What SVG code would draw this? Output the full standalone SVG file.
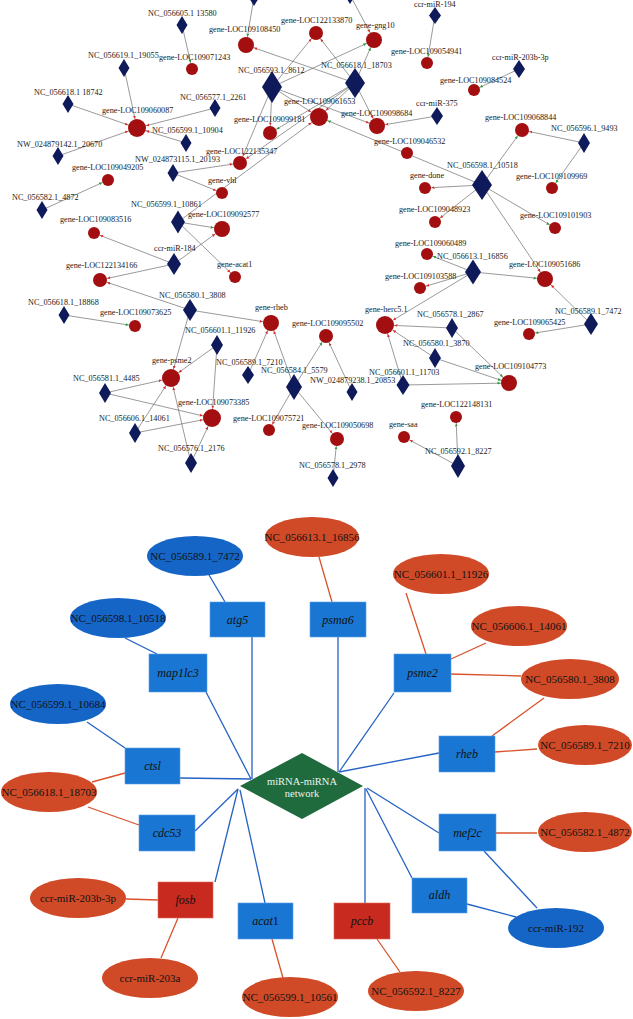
<svg xmlns="http://www.w3.org/2000/svg" width="633" height="1019" viewBox="0 0 633 1019">
<style>
.t{font-family:"Liberation Serif",serif;font-size:8.2px;fill:#1a1a1a}
.e{stroke:#6e6e6e;stroke-width:0.7;fill:none}
.g{fill:#a30f10}
.d{fill:#0e1a5a}
.bl{stroke:#2462c4;stroke-width:1.3}
.rl{stroke:#d9522b;stroke-width:1.3}
.bx{fill:#1976d2;stroke:#5aa0e6;stroke-width:0.6}
.rbx{fill:#c82a1f;stroke:#e06a5a;stroke-width:0.6}
.eb{fill:#1565c6}
.er{fill:#d04a27}
.lt{font-family:"Liberation Serif",serif;font-size:11px;fill:#111;text-anchor:middle}
.bt{font-family:"Liberation Serif",serif;font-size:12px;font-style:italic;fill:#111;text-anchor:middle}
.ht{font-family:"Liberation Serif",serif;font-size:10.5px;fill:#eef3ee;text-anchor:middle}
</style>
<defs>
<marker id="r6" viewBox="0 -2 4 4" refX="9.5" refY="0" markerWidth="4" markerHeight="4" orient="auto" markerUnits="userSpaceOnUse"><path d="M0,-1.5L3,0L0,1.5z" fill="#e02a2a"/></marker>
<marker id="r7" viewBox="0 -2 4 4" refX="10.5" refY="0" markerWidth="4" markerHeight="4" orient="auto" markerUnits="userSpaceOnUse"><path d="M0,-1.5L3,0L0,1.5z" fill="#e02a2a"/></marker>
<marker id="r8" viewBox="0 -2 4 4" refX="11.5" refY="0" markerWidth="4" markerHeight="4" orient="auto" markerUnits="userSpaceOnUse"><path d="M0,-1.5L3,0L0,1.5z" fill="#e02a2a"/></marker>
<marker id="r9" viewBox="0 -2 4 4" refX="12.5" refY="0" markerWidth="4" markerHeight="4" orient="auto" markerUnits="userSpaceOnUse"><path d="M0,-1.5L3,0L0,1.5z" fill="#e02a2a"/></marker>
<marker id="g6" viewBox="0 -2 4 4" refX="9.5" refY="0" markerWidth="4" markerHeight="4" orient="auto" markerUnits="userSpaceOnUse"><path d="M0,-1.5L3,0L0,1.5z" fill="#2a9a35"/></marker>
<marker id="g7" viewBox="0 -2 4 4" refX="10.5" refY="0" markerWidth="4" markerHeight="4" orient="auto" markerUnits="userSpaceOnUse"><path d="M0,-1.5L3,0L0,1.5z" fill="#2a9a35"/></marker>
<marker id="g8" viewBox="0 -2 4 4" refX="11.5" refY="0" markerWidth="4" markerHeight="4" orient="auto" markerUnits="userSpaceOnUse"><path d="M0,-1.5L3,0L0,1.5z" fill="#2a9a35"/></marker>
<marker id="g9" viewBox="0 -2 4 4" refX="12.5" refY="0" markerWidth="4" markerHeight="4" orient="auto" markerUnits="userSpaceOnUse"><path d="M0,-1.5L3,0L0,1.5z" fill="#2a9a35"/></marker>
</defs>
<rect width="633" height="1019" fill="#ffffff"/>

<g id="connectors">
<g class="e">
<line x1="182" y1="25" x2="192" y2="69" marker-end="url(#g6)"/>
<line x1="254" y1="-3" x2="246" y2="45" marker-end="url(#g8)"/>
<line x1="350" y1="-5" x2="374" y2="40" marker-end="url(#r8)"/>
<line x1="435" y1="15" x2="427" y2="63" marker-end="url(#g6)"/>
<line x1="124" y1="68" x2="137" y2="128" marker-end="url(#r9)"/>
<line x1="68" y1="104" x2="137" y2="128" marker-end="url(#r9)"/>
<line x1="58" y1="156" x2="137" y2="128" marker-end="url(#r9)"/>
<line x1="186" y1="143" x2="137" y2="128" marker-end="url(#r9)"/>
<line x1="215" y1="108" x2="137" y2="128" marker-end="url(#r9)"/>
<line x1="42" y1="210" x2="108" y2="180" marker-end="url(#g6)"/>
<line x1="272" y1="87" x2="316" y2="33" marker-end="url(#r7)"/>
<line x1="272" y1="87" x2="374" y2="40" marker-end="url(#g8)"/>
<line x1="355" y1="83" x2="246" y2="45" marker-end="url(#r8)"/>
<line x1="355" y1="83" x2="316" y2="33" marker-end="url(#r7)"/>
<line x1="355" y1="83" x2="374" y2="40" marker-end="url(#g8)"/>
<line x1="272" y1="87" x2="270" y2="133" marker-end="url(#r7)"/>
<line x1="272" y1="87" x2="240" y2="163" marker-end="url(#r7)"/>
<line x1="272" y1="87" x2="377" y2="126" marker-end="url(#r8)"/>
<line x1="272" y1="87" x2="319" y2="117" marker-end="url(#r9)"/>
<line x1="355" y1="83" x2="319" y2="117" marker-end="url(#r9)"/>
<line x1="355" y1="83" x2="240" y2="163" marker-end="url(#r7)"/>
<line x1="355" y1="83" x2="270" y2="133" marker-end="url(#g7)"/>
<line x1="355" y1="83" x2="377" y2="126" marker-end="url(#r8)"/>
<line x1="178" y1="222" x2="319" y2="117" marker-end="url(#r9)"/>
<line x1="482" y1="185" x2="319" y2="117" marker-end="url(#g9)"/>
<line x1="437" y1="116" x2="377" y2="126" marker-end="url(#r8)"/>
<line x1="519" y1="69" x2="474" y2="90" marker-end="url(#g6)"/>
<line x1="584" y1="143" x2="522" y2="130" marker-end="url(#r7)"/>
<line x1="584" y1="143" x2="552" y2="188" marker-end="url(#g6)"/>
<line x1="482" y1="185" x2="522" y2="130" marker-end="url(#g7)"/>
<line x1="482" y1="185" x2="425" y2="188" marker-end="url(#r6)"/>
<line x1="482" y1="185" x2="435" y2="222" marker-end="url(#r6)"/>
<line x1="482" y1="185" x2="555" y2="228" marker-end="url(#g6)"/>
<line x1="482" y1="185" x2="545" y2="279" marker-end="url(#r8)"/>
<line x1="473" y1="272" x2="545" y2="279" marker-end="url(#g8)"/>
<line x1="473" y1="272" x2="427" y2="254" marker-end="url(#g6)"/>
<line x1="473" y1="272" x2="420" y2="288" marker-end="url(#r6)"/>
<line x1="473" y1="272" x2="385" y2="325" marker-end="url(#r9)"/>
<line x1="591" y1="324" x2="545" y2="279" marker-end="url(#r8)"/>
<line x1="591" y1="324" x2="529" y2="334" marker-end="url(#g6)"/>
<line x1="173" y1="173" x2="222" y2="193" marker-end="url(#r6)"/>
<line x1="173" y1="173" x2="240" y2="163" marker-end="url(#r7)"/>
<line x1="178" y1="222" x2="222" y2="229" marker-end="url(#g8)"/>
<line x1="178" y1="222" x2="235" y2="277" marker-end="url(#r6)"/>
<line x1="174" y1="264" x2="222" y2="229" marker-end="url(#r8)"/>
<line x1="174" y1="264" x2="94" y2="233" marker-end="url(#r6)"/>
<line x1="174" y1="264" x2="100" y2="280" marker-end="url(#r7)"/>
<line x1="190" y1="310" x2="100" y2="280" marker-end="url(#r7)"/>
<line x1="190" y1="310" x2="271" y2="323" marker-end="url(#r8)"/>
<line x1="190" y1="310" x2="171" y2="378" marker-end="url(#r9)"/>
<line x1="64" y1="315" x2="135" y2="326" marker-end="url(#g6)"/>
<line x1="217" y1="345" x2="171" y2="378" marker-end="url(#r9)"/>
<line x1="217" y1="345" x2="212" y2="418" marker-end="url(#r9)"/>
<line x1="105" y1="393" x2="171" y2="378" marker-end="url(#r9)"/>
<line x1="105" y1="393" x2="212" y2="418" marker-end="url(#r9)"/>
<line x1="135" y1="433" x2="171" y2="378" marker-end="url(#r9)"/>
<line x1="135" y1="433" x2="212" y2="418" marker-end="url(#r9)"/>
<line x1="191" y1="463" x2="171" y2="378" marker-end="url(#r9)"/>
<line x1="191" y1="463" x2="212" y2="418" marker-end="url(#r9)"/>
<line x1="352" y1="392" x2="326" y2="336" marker-end="url(#r7)"/>
<line x1="294" y1="387" x2="326" y2="336" marker-end="url(#g7)"/>
<line x1="294" y1="387" x2="269" y2="430" marker-end="url(#r6)"/>
<line x1="294" y1="387" x2="337" y2="439" marker-end="url(#r7)"/>
<line x1="333" y1="478" x2="337" y2="439" marker-end="url(#g7)"/>
<line x1="248" y1="375" x2="271" y2="323" marker-end="url(#r8)"/>
<line x1="294" y1="387" x2="271" y2="323" marker-end="url(#r8)"/>
<line x1="403" y1="385" x2="385" y2="325" marker-end="url(#r9)"/>
<line x1="403" y1="385" x2="509" y2="383" marker-end="url(#g8)"/>
<line x1="435" y1="358" x2="509" y2="383" marker-end="url(#g8)"/>
<line x1="452" y1="328" x2="509" y2="383" marker-end="url(#g8)"/>
<line x1="435" y1="358" x2="385" y2="325" marker-end="url(#r9)"/>
<line x1="452" y1="328" x2="385" y2="325" marker-end="url(#r9)"/>
<line x1="458" y1="466" x2="456" y2="417" marker-end="url(#g6)"/>
<line x1="458" y1="466" x2="404" y2="437" marker-end="url(#r6)"/>
</g>
<g class="bl">
<line x1="252" y1="637" x2="252" y2="779"/>
<line x1="206" y1="692" x2="251" y2="779"/>
<line x1="180" y1="778" x2="251" y2="779"/>
<line x1="338" y1="637" x2="338" y2="772"/>
<line x1="394" y1="693" x2="339" y2="772"/>
<line x1="439" y1="753" x2="339" y2="772"/>
<line x1="195" y1="831" x2="238" y2="789"/>
<line x1="238" y1="789" x2="215" y2="882"/>
<line x1="240" y1="790" x2="265" y2="903"/>
<line x1="365" y1="788" x2="365" y2="903"/>
<line x1="366" y1="789" x2="412" y2="878"/>
<line x1="367" y1="788" x2="439" y2="833"/>
<line x1="209" y1="575" x2="225" y2="602"/>
<line x1="125" y1="638" x2="157" y2="654"/>
<line x1="87" y1="722" x2="125" y2="748"/>
<line x1="484" y1="851" x2="537" y2="908"/>
<line x1="467" y1="904" x2="516" y2="917"/>
</g>
<g class="rl">
<line x1="319" y1="557" x2="332" y2="602"/>
<line x1="406" y1="593" x2="426" y2="654"/>
<line x1="486" y1="643" x2="451" y2="659"/>
<line x1="451" y1="674" x2="521" y2="676"/>
<line x1="544" y1="698" x2="492" y2="736"/>
<line x1="495" y1="752" x2="537" y2="749"/>
<line x1="125" y1="773" x2="92" y2="782"/>
<line x1="88" y1="807" x2="139" y2="825"/>
<line x1="496" y1="833" x2="537" y2="833"/>
<line x1="126" y1="899" x2="158" y2="900"/>
<line x1="178" y1="918" x2="161" y2="958"/>
<line x1="272" y1="939" x2="283" y2="978"/>
<line x1="377" y1="939" x2="400" y2="972"/>
</g>
</g>

<g id="mirna-nodes">
<g id="n-NC_056605.1_13580"><path class="d" d="M182,16l5.5,9l-5.5,9l-5.5,-9z"/><text class="t" x="148" y="16">NC_056605.1 13580</text></g>
<g id="n-top-a"><path class="d" d="M254,-12l5.5,9l-5.5,9l-5.5,-9z"/></g>
<g id="n-top-b"><path class="d" d="M350,-14l5.5,9l-5.5,9l-5.5,-9z"/></g>
<g id="n-ccr-miR-194"><path class="d" d="M435,7l6,8.5l-6,8.5l-6,-8.5z"/><text class="t" x="414" y="7">ccr-miR-194</text></g>
<g id="n-NC_056619.1_19055"><path class="d" d="M124,59l5.5,9l-5.5,9l-5.5,-9z"/><text class="t" x="88" y="58">NC_056619.1_19055</text></g>
<g id="n-NC_056618.1_18742"><path class="d" d="M68,95l5.5,9l-5.5,9l-5.5,-9z"/><text class="t" x="34" y="95">NC_056618.1 18742</text></g>
<g id="n-NC_056577.1_2261"><path class="d" d="M215,99l5.5,9l-5.5,9l-5.5,-9z"/><text class="t" x="180" y="100">NC_056577.1_2261</text></g>
<g id="n-NC_056599.1_10904"><path class="d" d="M186,134l5.5,9l-5.5,9l-5.5,-9z"/><text class="t" x="152" y="133">NC_056599.1_10904</text></g>
<g id="n-NW_024879142.1_20670"><path class="d" d="M58,147l5.5,9l-5.5,9l-5.5,-9z"/><text class="t" x="17" y="147">NW_024879142.1_20670</text></g>
<g id="n-NW_024873115.1_20193"><path class="d" d="M173,164l5.5,9l-5.5,9l-5.5,-9z"/><text class="t" x="135" y="162">NW_024873115.1_20193</text></g>
<g id="n-NC_056582.1_4872"><path class="d" d="M42,201l5.5,9l-5.5,9l-5.5,-9z"/><text class="t" x="12" y="200">NC_056582.1_4872</text></g>
<g id="n-NC_056593.1_8612"><path class="d" d="M272,71l10,16l-10,16l-10,-16z"/><text class="t" x="238" y="73">NC_056593.1_8612</text></g>
<g id="n-NC_056618.1_18703"><path class="d" d="M355,68l10,15l-10,15l-10,-15z"/><text class="t" x="321" y="68">NC_056618.1_18703</text></g>
<g id="n-ccr-miR-203b-3p"><path class="d" d="M519,60l6,9l-6,9l-6,-9z"/><text class="t" x="492" y="60">ccr-miR-203b-3p</text></g>
<g id="n-ccr-miR-375"><path class="d" d="M437,107l6,9l-6,9l-6,-9z"/><text class="t" x="416" y="106">ccr-miR-375</text></g>
<g id="n-NC_056596.1_9493"><path class="d" d="M584,133l6,10l-6,10l-6,-10z"/><text class="t" x="551" y="131">NC_056596.1_9493</text></g>
<g id="n-NC_056598.1_10518"><path class="d" d="M482,170l10,15l-10,15l-10,-15z"/><text class="t" x="447" y="168">NC_056598.1_10518</text></g>
<g id="n-NC_056599.1_10861"><path class="d" d="M178,210.5l7,11.5l-7,11.5l-7,-11.5z"/><text class="t" x="131" y="207">NC_056599.1_10861</text></g>
<g id="n-ccr-miR-184"><path class="d" d="M174,253l7,11l-7,11l-7,-11z"/><text class="t" x="154" y="251">ccr-miR-184</text></g>
<g id="n-NC_056580.1_3808"><path class="d" d="M190,299l7,11l-7,11l-7,-11z"/><text class="t" x="159" y="298">NC_056580.1_3808</text></g>
<g id="n-NC_056618.1_18868"><path class="d" d="M64,306l5.5,9l-5.5,9l-5.5,-9z"/><text class="t" x="28" y="305">NC_056618.1_18868</text></g>
<g id="n-NC_056613.1_16856"><path class="d" d="M473,259.5l8,12.5l-8,12.5l-8,-12.5z"/><text class="t" x="437" y="259">NC_056613.1_16856</text></g>
<g id="n-NC_056578.1_2867"><path class="d" d="M452,318l6,10l-6,10l-6,-10z"/><text class="t" x="417" y="317">NC_056578.1_2867</text></g>
<g id="n-NC_056589.1_7472"><path class="d" d="M591,313l7,11l-7,11l-7,-11z"/><text class="t" x="555" y="314">NC_056589.1_7472</text></g>
<g id="n-NC_056601.1_11926"><path class="d" d="M217,335l6,10l-6,10l-6,-10z"/><text class="t" x="185" y="333">NC_056601.1_11926</text></g>
<g id="n-NC_056589.1_7210"><path class="d" d="M248,366l6,9l-6,9l-6,-9z"/><text class="t" x="216" y="365">NC_056589.1_7210</text></g>
<g id="n-NC_056584.1_5579"><path class="d" d="M294,374l8,13l-8,13l-8,-13z"/><text class="t" x="261" y="373">NC_056584.1_5579</text></g>
<g id="n-NW_024879238.1_20853"><path class="d" d="M352,383l5.5,9l-5.5,9l-5.5,-9z"/><text class="t" x="310" y="383">NW_024879238.1_20853</text></g>
<g id="n-NC_056601.1_11703"><path class="d" d="M403,375l6.5,10l-6.5,10l-6.5,-10z"/><text class="t" x="369" y="375">NC_056601.1_11703</text></g>
<g id="n-NC_056580.1_3870"><path class="d" d="M435,348l6,10l-6,10l-6,-10z"/><text class="t" x="403" y="346">NC_056580.1_3870</text></g>
<g id="n-NC_056581.1_4485"><path class="d" d="M105,383l6,10l-6,10l-6,-10z"/><text class="t" x="73" y="381">NC_056581.1_4485</text></g>
<g id="n-NC_056606.1_14061"><path class="d" d="M135,423l6,10l-6,10l-6,-10z"/><text class="t" x="99" y="421">NC_056606.1_14061</text></g>
<g id="n-NC_056576.1_2176"><path class="d" d="M191,453l6,10l-6,10l-6,-10z"/><text class="t" x="158" y="451">NC_056576.1_2176</text></g>
<g id="n-NC_056578.1_2978"><path class="d" d="M333,469l5.5,9l-5.5,9l-5.5,-9z"/><text class="t" x="299" y="468">NC_056578.1_2978</text></g>
<g id="n-NC_056592.1_8227"><path class="d" d="M458,454l7,12l-7,12l-7,-12z"/><text class="t" x="425" y="454">NC_056592.1_8227</text></g>
</g>

<g id="gene-nodes">
<g id="n-gene-LOC109071243"><circle class="g" cx="192" cy="69" r="6"/><text class="t" x="159" y="60">gene-LOC109071243</text></g>
<g id="n-gene-LOC109060087"><circle class="g" cx="137" cy="128" r="9"/><text class="t" x="102" y="113">gene-LOC109060087</text></g>
<g id="n-gene-LOC109049205"><circle class="g" cx="108" cy="180" r="6"/><text class="t" x="72" y="170">gene-LOC109049205</text></g>
<g id="n-gene-LOC109108450"><circle class="g" cx="246" cy="45" r="8"/><text class="t" x="209" y="32">gene-LOC109108450</text></g>
<g id="n-gene-LOC122133870"><circle class="g" cx="316" cy="33" r="7"/><text class="t" x="281" y="23">gene-LOC122133870</text></g>
<g id="n-gene-gng10"><circle class="g" cx="374" cy="40" r="8"/><text class="t" x="356" y="28">gene-gng10</text></g>
<g id="n-gene-LOC109061653"><circle class="g" cx="319" cy="117" r="9"/><text class="t" x="284" y="104">gene-LOC109061653</text></g>
<g id="n-gene-LOC109099181"><circle class="g" cx="270" cy="133" r="7"/><text class="t" x="234" y="122">gene-LOC109099181</text></g>
<g id="n-gene-LOC109098684"><circle class="g" cx="377" cy="126" r="8"/><text class="t" x="341" y="116">gene-LOC109098684</text></g>
<g id="n-gene-LOC122135347"><circle class="g" cx="240" cy="163" r="7"/><text class="t" x="206" y="154">gene-LOC122135347</text></g>
<g id="n-gene-LOC109046532"><circle class="g" cx="407" cy="153" r="6"/><text class="t" x="374" y="144">gene-LOC109046532</text></g>
<g id="n-gene-LOC109054941"><circle class="g" cx="427" cy="63" r="6"/><text class="t" x="391" y="54">gene-LOC109054941</text></g>
<g id="n-gene-LOC109084524"><circle class="g" cx="474" cy="90" r="6"/><text class="t" x="440" y="83">gene-LOC109084524</text></g>
<g id="n-gene-LOC109068844"><circle class="g" cx="522" cy="130" r="7"/><text class="t" x="485" y="120">gene-LOC109068844</text></g>
<g id="n-gene-done"><circle class="g" cx="425" cy="188" r="6"/><text class="t" x="410" y="178">gene-done</text></g>
<g id="n-gene-LOC109109969"><circle class="g" cx="552" cy="188" r="6"/><text class="t" x="516" y="179">gene-LOC109109969</text></g>
<g id="n-gene-LOC109048923"><circle class="g" cx="435" cy="222" r="6"/><text class="t" x="399" y="212">gene-LOC109048923</text></g>
<g id="n-gene-LOC109101903"><circle class="g" cx="555" cy="228" r="6"/><text class="t" x="520" y="218">gene-LOC109101903</text></g>
<g id="n-gene-vhl"><circle class="g" cx="222" cy="193" r="6"/><text class="t" x="208" y="183">gene-vhl</text></g>
<g id="n-gene-LOC109092577"><circle class="g" cx="222" cy="229" r="8"/><text class="t" x="188" y="217">gene-LOC109092577</text></g>
<g id="n-gene-LOC109083516"><circle class="g" cx="94" cy="233" r="6"/><text class="t" x="60" y="222">gene-LOC109083516</text></g>
<g id="n-gene-LOC122134166"><circle class="g" cx="100" cy="280" r="7"/><text class="t" x="66" y="268">gene-LOC122134166</text></g>
<g id="n-gene-acat1"><circle class="g" cx="235" cy="277" r="6"/><text class="t" x="217" y="267">gene-acat1</text></g>
<g id="n-gene-LOC109060489"><circle class="g" cx="427" cy="254" r="6"/><text class="t" x="395" y="246">gene-LOC109060489</text></g>
<g id="n-gene-LOC109051686"><circle class="g" cx="545" cy="279" r="8"/><text class="t" x="509" y="267">gene-LOC109051686</text></g>
<g id="n-gene-LOC109103588"><circle class="g" cx="420" cy="288" r="6"/><text class="t" x="385" y="279">gene-LOC109103588</text></g>
<g id="n-gene-LOC109073625"><circle class="g" cx="135" cy="326" r="6"/><text class="t" x="100" y="315">gene-LOC109073625</text></g>
<g id="n-gene-rheb"><circle class="g" cx="271" cy="323" r="8"/><text class="t" x="255" y="310">gene-rheb</text></g>
<g id="n-gene-herc5.1"><circle class="g" cx="385" cy="325" r="9"/><text class="t" x="365" y="312">gene-herc5.1</text></g>
<g id="n-gene-LOC109095502"><circle class="g" cx="326" cy="336" r="7"/><text class="t" x="292" y="326">gene-LOC109095502</text></g>
<g id="n-gene-LOC109065425"><circle class="g" cx="529" cy="334" r="6"/><text class="t" x="494" y="325">gene-LOC109065425</text></g>
<g id="n-gene-psme2"><circle class="g" cx="171" cy="378" r="9"/><text class="t" x="152" y="363">gene-psme2</text></g>
<g id="n-gene-LOC109073385"><circle class="g" cx="212" cy="418" r="9"/><text class="t" x="178" y="405">gene-LOC109073385</text></g>
<g id="n-gene-LOC109104773"><circle class="g" cx="509" cy="383" r="8"/><text class="t" x="475" y="369">gene-LOC109104773</text></g>
<g id="n-gene-LOC122148131"><circle class="g" cx="456" cy="417" r="6"/><text class="t" x="421" y="407">gene-LOC122148131</text></g>
<g id="n-gene-saa"><circle class="g" cx="404" cy="437" r="6"/><text class="t" x="389" y="427">gene-saa</text></g>
<g id="n-gene-LOC109075721"><circle class="g" cx="269" cy="430" r="6"/><text class="t" x="233" y="421">gene-LOC109075721</text></g>
<g id="n-gene-LOC109050698"><circle class="g" cx="337" cy="439" r="7"/><text class="t" x="302" y="428">gene-LOC109050698</text></g>
</g>

<g id="hub"><path d="M302,753L363,786L302,819L240,786z" fill="#1f6b3d"/><text class="ht" x="302" y="785">miRNA-miRNA</text><text class="ht" x="302" y="797">network</text></g>

<g id="genes-bottom">
<g id="b-atg5"><rect class="bx" x="210" y="602" width="55" height="35"/><text class="bt" x="237.5" y="624">atg5</text></g>
<g id="b-psma6"><rect class="bx" x="310" y="602" width="56" height="35"/><text class="bt" x="338" y="624">psma6</text></g>
<g id="b-map1lc3"><rect class="bx" x="149" y="654" width="58" height="38"/><text class="bt" x="178" y="677">map1lc3</text></g>
<g id="b-psme2"><rect class="bx" x="394" y="654" width="57" height="38"/><text class="bt" x="422.5" y="677">psme2</text></g>
<g id="b-ctsl"><rect class="bx" x="125" y="748" width="55" height="36"/><text class="bt" x="152.5" y="770">ctsl</text></g>
<g id="b-rheb"><rect class="bx" x="439" y="736" width="56" height="36"/><text class="bt" x="467" y="758">rheb</text></g>
<g id="b-cdc53"><rect class="bx" x="139" y="815" width="56" height="36"/><text class="bt" x="167" y="837">cdc53</text></g>
<g id="b-mef2c"><rect class="bx" x="439" y="814" width="57" height="37"/><text class="bt" x="467.5" y="837">mef2c</text></g>
<g id="b-fosb"><rect class="rbx" x="158" y="882" width="55" height="36"/><text class="bt" x="185.5" y="904">fosb</text></g>
<g id="b-acat1"><rect class="bx" x="238" y="903" width="55" height="36"/><text class="bt" x="265.5" y="925">acat<tspan font-style="normal">1</tspan></text></g>
<g id="b-pccb"><rect class="rbx" x="334" y="903" width="56" height="36"/><text class="bt" x="362" y="925">pccb</text></g>
<g id="b-aldh"><rect class="bx" x="412" y="878" width="55" height="35"/><text class="bt" x="439.5" y="899">aldh</text></g>
</g>

<g id="mirnas-bottom">
<g id="e-NC_056613.1_16856"><ellipse class="er" cx="312" cy="537" rx="47" ry="20"/><text class="lt" x="312" y="541">NC_056613.1_16856</text></g>
<g id="e-NC_056589.1_7472"><ellipse class="eb" cx="195" cy="556" rx="48" ry="20"/><text class="lt" x="195" y="560">NC_056589.1_7472</text></g>
<g id="e-NC_056601.1_11926"><ellipse class="er" cx="441" cy="574" rx="48" ry="20"/><text class="lt" x="441" y="578">NC_056601.1_11926</text></g>
<g id="e-NC_056598.1_10518"><ellipse class="eb" cx="118" cy="618" rx="48" ry="20"/><text class="lt" x="118" y="622">NC_056598.1_10518</text></g>
<g id="e-NC_056606.1_14061"><ellipse class="er" cx="519" cy="626" rx="48" ry="20"/><text class="lt" x="519" y="630">NC_056606.1_14061</text></g>
<g id="e-NC_056580.1_3808"><ellipse class="er" cx="570" cy="679" rx="49" ry="20"/><text class="lt" x="570" y="683">NC_056580.1_3808</text></g>
<g id="e-NC_056599.1_10684"><ellipse class="eb" cx="58" cy="704" rx="48" ry="20"/><text class="lt" x="58" y="708">NC_056599.1_10684</text></g>
<g id="e-NC_056618.1_18703"><ellipse class="er" cx="49" cy="792" rx="48" ry="20"/><text class="lt" x="49" y="796">NC_056618.1_18703</text></g>
<g id="e-NC_056589.1_7210"><ellipse class="er" cx="585" cy="745" rx="47" ry="20"/><text class="lt" x="585" y="749">NC_056589.1_7210</text></g>
<g id="e-NC_056582.1_4872"><ellipse class="er" cx="585" cy="832" rx="47" ry="20"/><text class="lt" x="585" y="836">NC_056582.1_4872</text></g>
<g id="e-ccr-miR-203b-3p"><ellipse class="er" cx="78" cy="898" rx="48" ry="20"/><text class="lt" x="78" y="902">ccr-miR-203b-3p</text></g>
<g id="e-ccr-miR-203a"><ellipse class="er" cx="150" cy="978" rx="48" ry="20"/><text class="lt" x="150" y="982">ccr-miR-203a</text></g>
<g id="e-NC_056599.1_10561"><ellipse class="er" cx="290" cy="997" rx="48" ry="20"/><text class="lt" x="290" y="1001">NC_056599.1_10561</text></g>
<g id="e-NC_056592.1_8227"><ellipse class="er" cx="416" cy="991" rx="48" ry="20"/><text class="lt" x="416" y="995">NC_056592.1_8227</text></g>
<g id="e-ccr-miR-192"><ellipse class="eb" cx="556" cy="928" rx="48" ry="20"/><text class="lt" x="556" y="932">ccr-miR-192</text></g>
</g>
</svg>
